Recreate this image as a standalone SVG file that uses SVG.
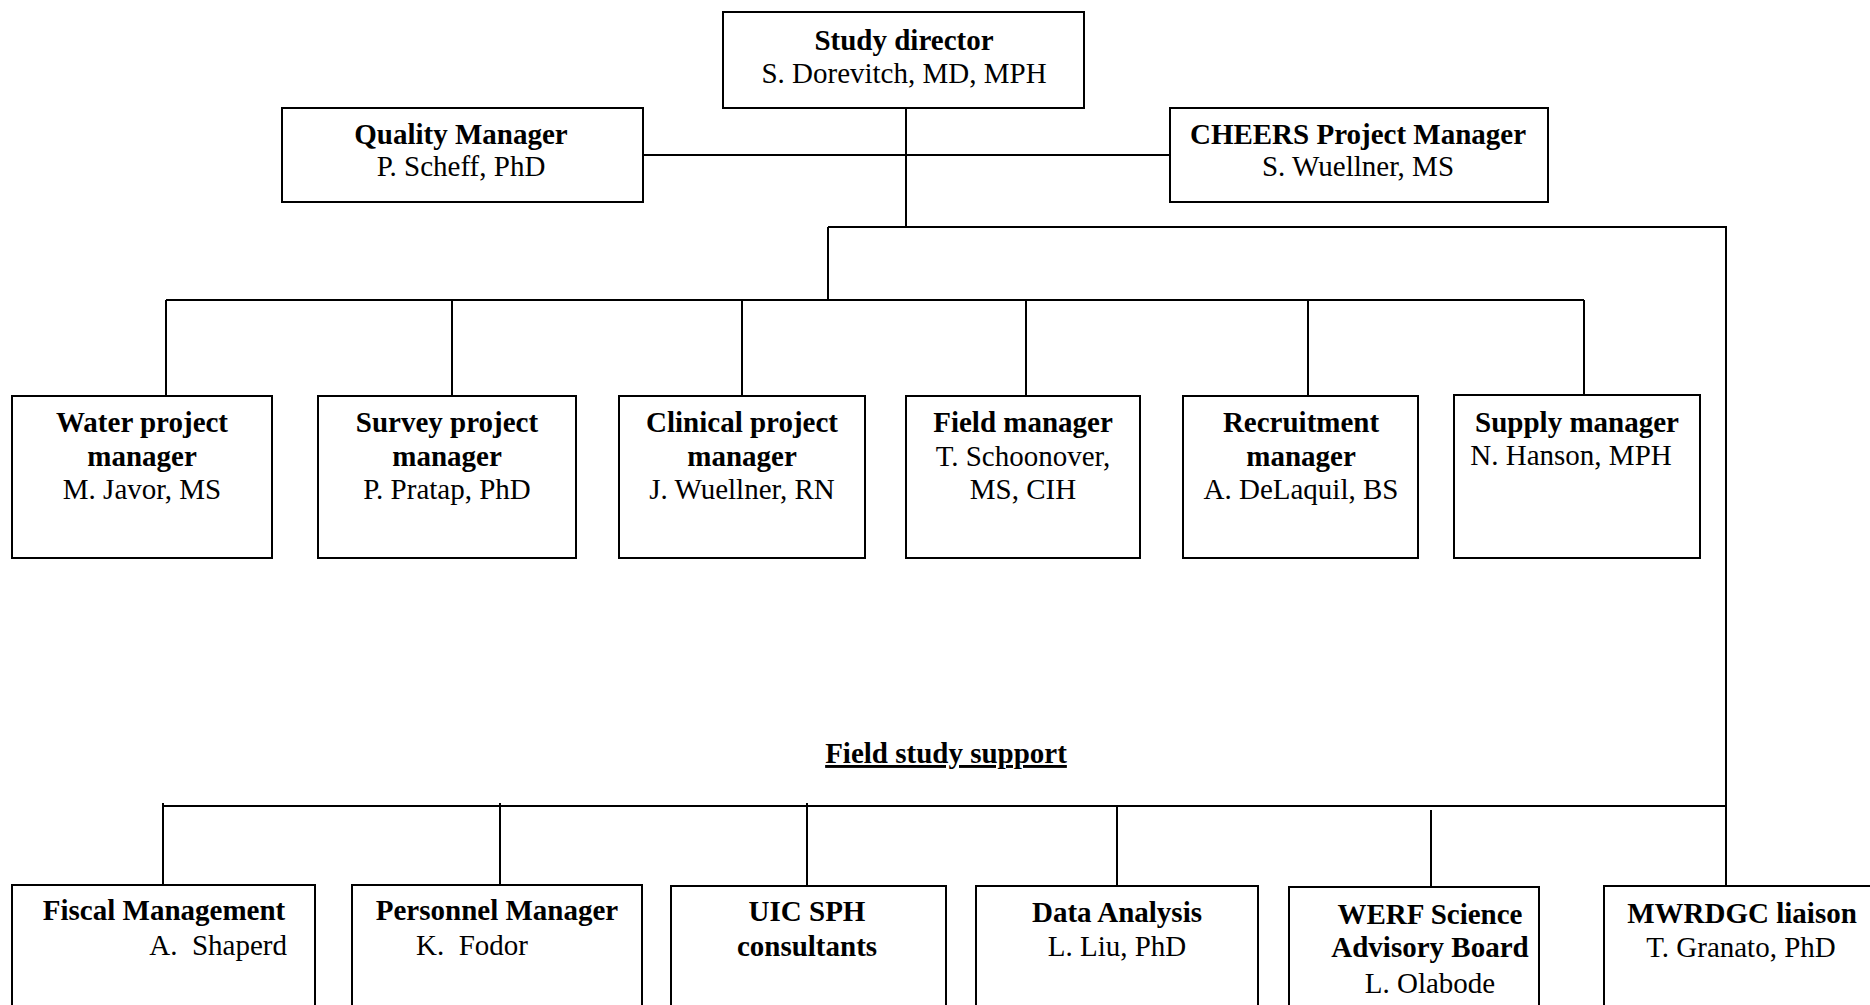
<svg xmlns="http://www.w3.org/2000/svg" width="1870" height="1005" viewBox="0 0 1870 1005">
<style>
.box{fill:#fff;stroke:#000;stroke-width:2}
.ln{fill:none;stroke:#000;stroke-width:2}
text{font-family:"Liberation Serif","Times New Roman",serif;font-size:29px;fill:#000;text-anchor:middle}
.b{font-weight:bold}
text.st{text-anchor:start}
text.en{text-anchor:end}
</style>
<rect width="1870" height="1005" fill="#fff"/>
<g id="connectors">
<path class="ln" d="M906 108V227M643 155H1170M828 227H1726V886M828 227V300M166 300H1584M166 300V396M452 300V396M742 300V396M1026 300V396M1308 300V396M1584 300V395M163 806H1726M163 803V885M500 803V885M807 803V886M1117 806V886M1431 810V887"/>
</g>
<g id="study-director">
<rect class="box" x="723" y="12" width="361" height="96"/>
<text class="b" x="904" y="50">Study director</text>
<text x="904" y="83">S. Dorevitch, MD, MPH</text>
</g>
<g id="quality-manager">
<rect class="box" x="282" y="108" width="361" height="94"/>
<text class="b" x="461" y="144">Quality Manager</text>
<text x="461" y="176">P. Scheff, PhD</text>
</g>
<g id="cheers-manager">
<rect class="box" x="1170" y="108" width="378" height="94"/>
<text class="b" x="1358" y="144">CHEERS Project Manager</text>
<text x="1358" y="176">S. Wuellner, MS</text>
</g>
<g id="water">
<rect class="box" x="12" y="396" width="260" height="162"/>
<text class="b" x="142" y="432">Water project</text>
<text class="b" x="142" y="466">manager</text>
<text x="142" y="499">M. Javor, MS</text>
</g>
<g id="survey">
<rect class="box" x="318" y="396" width="258" height="162"/>
<text class="b" x="447" y="432">Survey project</text>
<text class="b" x="447" y="466">manager</text>
<text x="447" y="499">P. Pratap, PhD</text>
</g>
<g id="clinical">
<rect class="box" x="619" y="396" width="246" height="162"/>
<text class="b" x="742" y="432">Clinical project</text>
<text class="b" x="742" y="466">manager</text>
<text x="742" y="499">J. Wuellner, RN</text>
</g>
<g id="field">
<rect class="box" x="906" y="396" width="234" height="162"/>
<text class="b" x="1023" y="432">Field manager</text>
<text x="1023" y="466">T. Schoonover,</text>
<text x="1023" y="499">MS, CIH</text>
</g>
<g id="recruitment">
<rect class="box" x="1183" y="396" width="235" height="162"/>
<text class="b" x="1301" y="432">Recruitment</text>
<text class="b" x="1301" y="466">manager</text>
<text x="1301" y="499">A. DeLaquil, BS</text>
</g>
<g id="supply">
<rect class="box" x="1454" y="395" width="246" height="163"/>
<text class="b" x="1577" y="432">Supply manager</text>
<text x="1571" y="465">N. Hanson, MPH</text>
</g>
<text class="b" x="946" y="763" text-decoration="underline">Field study support</text>
<g id="fiscal">
<rect class="box" x="12" y="885" width="303" height="130"/>
<text class="b" x="164" y="920">Fiscal Management</text>
<text class="en" x="287" y="955" xml:space="preserve">A.  Shaperd</text>
</g>
<g id="personnel">
<rect class="box" x="352" y="885" width="290" height="130"/>
<text class="b" x="497" y="920">Personnel Manager</text>
<text class="st" x="416" y="955" xml:space="preserve">K.  Fodor</text>
</g>
<g id="uic-sph">
<rect class="box" x="671" y="886" width="275" height="130"/>
<text class="b" x="807" y="921">UIC SPH</text>
<text class="b" x="807" y="956">consultants</text>
</g>
<g id="data-analysis">
<rect class="box" x="976" y="886" width="282" height="130"/>
<text class="b" x="1117" y="922">Data Analysis</text>
<text x="1117" y="956">L. Liu, PhD</text>
</g>
<g id="werf">
<rect class="box" x="1289" y="887" width="250" height="130"/>
<text class="b" x="1430" y="924">WERF Science</text>
<text class="b" x="1430" y="957">Advisory Board</text>
<text x="1430" y="993">L. Olabode</text>
</g>
<g id="mwrdgc">
<rect class="box" x="1604" y="886" width="290" height="130"/>
<text class="b" x="1742" y="923">MWRDGC liaison</text>
<text x="1741" y="957">T. Granato, PhD</text>
</g>
</svg>
